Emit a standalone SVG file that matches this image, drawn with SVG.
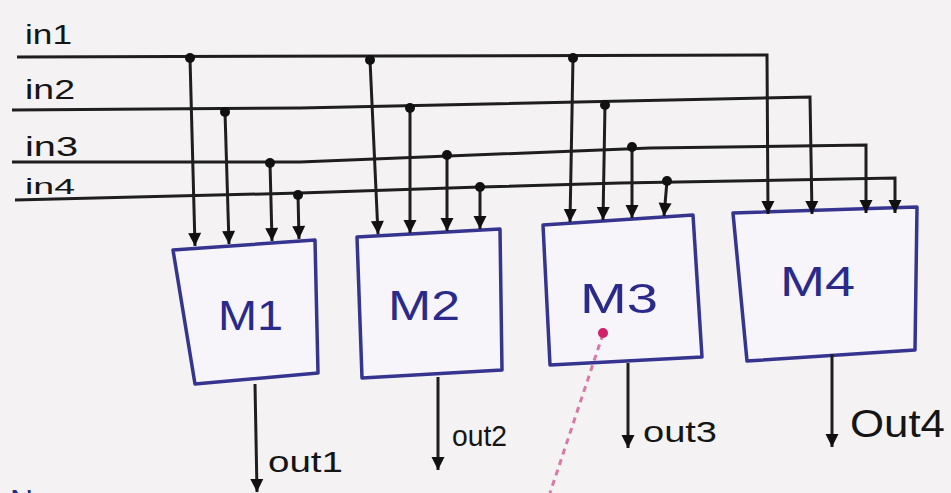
<svg xmlns="http://www.w3.org/2000/svg" width="951" height="493" viewBox="0 0 951 493">
<defs>
<marker id="ah" markerUnits="userSpaceOnUse" markerWidth="16" markerHeight="16" viewBox="-14 -8 16 16" refX="0" refY="0" orient="auto">
<path d="M-13,-6.5 L0,0 L-13,6.5 Z" fill="#111"/>
</marker>
<style>
.bus{fill:none;stroke:#1e1e1e;stroke-width:3;stroke-linejoin:miter}
.tap{fill:none;stroke:#1e1e1e;stroke-width:3;marker-end:url(#ah)}
.dot{fill:#111}
.box{fill:#f7f5fa;stroke:#35358f;stroke-width:3.5;stroke-linejoin:round}
.mlab{font-family:"Liberation Sans",Arial,sans-serif;font-size:42px;fill:#2a2a8a}
.lab{font-family:"Liberation Sans",Arial,sans-serif;fill:#151515}
</style>
</defs>
<rect width="951" height="493" fill="#f4f2f2"/>

<g id="labels">
<text class="lab" x="25" y="44" font-size="28" textLength="47" lengthAdjust="spacingAndGlyphs">in1</text>
<text class="lab" x="25" y="99" font-size="28" textLength="50" lengthAdjust="spacingAndGlyphs">in2</text>
<text class="lab" x="25" y="156" font-size="28" textLength="53" lengthAdjust="spacingAndGlyphs">in3</text>
<text class="lab" x="25" y="194" font-size="22" textLength="50" lengthAdjust="spacingAndGlyphs">in4</text>
</g>

<g id="M1">
<polygon class="box" points="173,250 315,240 318,373 195,384"/>
<text class="mlab" x="218" y="330" textLength="65" lengthAdjust="spacingAndGlyphs">M1</text>
</g>
<g id="M2">
<polygon class="box" points="357,237 500,229 502,370 362,378"/>
<text class="mlab" x="388" y="320" textLength="72" lengthAdjust="spacingAndGlyphs">M2</text>
</g>
<g id="M3">
<polygon class="box" points="543,225 693,215 702,357 550,365"/>
<text class="mlab" x="580" y="313" textLength="78" lengthAdjust="spacingAndGlyphs">M3</text>
</g>
<g id="M4">
<polygon class="box" points="733,213 917,207 915,350 747,361"/>
<text class="mlab" x="780" y="296" textLength="75" lengthAdjust="spacingAndGlyphs">M4</text>
</g>

<g id="connectors">
<path class="bus tap" d="M17,57 L767,55 L768,214"/>
<path class="bus tap" d="M12,110 L300,108 L810,97 L812,214"/>
<path class="bus tap" d="M12,162 L300,162 L650,148 L866,145 L866,213"/>
<path class="bus tap" d="M15,200 L300,193 L480,187 L620,183 L895,178 L895,213"/>

<path class="tap" d="M190,58 L195,246"/>
<path class="tap" d="M225,112 L229,244"/>
<path class="tap" d="M270,163 L272,241"/>
<path class="tap" d="M298,195 L299,239"/>

<path class="tap" d="M370,60 L378,234"/>
<path class="tap" d="M410,108 L410,233"/>
<path class="tap" d="M447,155 L447,231"/>
<path class="tap" d="M480,187 L480,229"/>

<path class="tap" d="M573,58 L570,222"/>
<path class="tap" d="M605,105 L603,220"/>
<path class="tap" d="M632,147 L632,218"/>
<path class="tap" d="M667,181 L664,216"/>

<circle class="dot" cx="190" cy="58" r="5"/>
<circle class="dot" cx="225" cy="112" r="5"/>
<circle class="dot" cx="270" cy="163" r="5"/>
<circle class="dot" cx="298" cy="195" r="5"/>
<circle class="dot" cx="370" cy="60" r="5"/>
<circle class="dot" cx="410" cy="108" r="5"/>
<circle class="dot" cx="447" cy="155" r="5"/>
<circle class="dot" cx="480" cy="187" r="5"/>
<circle class="dot" cx="573" cy="58" r="5"/>
<circle class="dot" cx="605" cy="105" r="5"/>
<circle class="dot" cx="632" cy="147" r="5"/>
<circle class="dot" cx="667" cy="181" r="5"/>

<path class="tap" d="M255,384 L257,492"/>
<path class="tap" d="M438,377 L438,470"/>
<path class="tap" d="M628,363 L628,448"/>
<path class="tap" d="M832,354 L832,447"/>

<path d="M603,334 L550,493" fill="none" stroke="#d77aa8" stroke-width="3" stroke-dasharray="6,5"/>
<circle cx="603" cy="333" r="5" fill="#d0206a"/>
</g>

<g id="outputs">
<text class="lab" x="268" y="472" font-size="30" textLength="75" lengthAdjust="spacingAndGlyphs">out1</text>
<text class="lab" x="452" y="446" font-size="30" textLength="55" lengthAdjust="spacingAndGlyphs">out2</text>
<text class="lab" x="643" y="442" font-size="30" textLength="74" lengthAdjust="spacingAndGlyphs">out3</text>
<text class="lab" x="850" y="437" font-size="38" textLength="95" lengthAdjust="spacingAndGlyphs">Out4</text>
</g>

<text x="10" y="512" font-family="Liberation Sans, Arial, sans-serif" font-size="32" fill="#2a2a8a">N</text>
</svg>
